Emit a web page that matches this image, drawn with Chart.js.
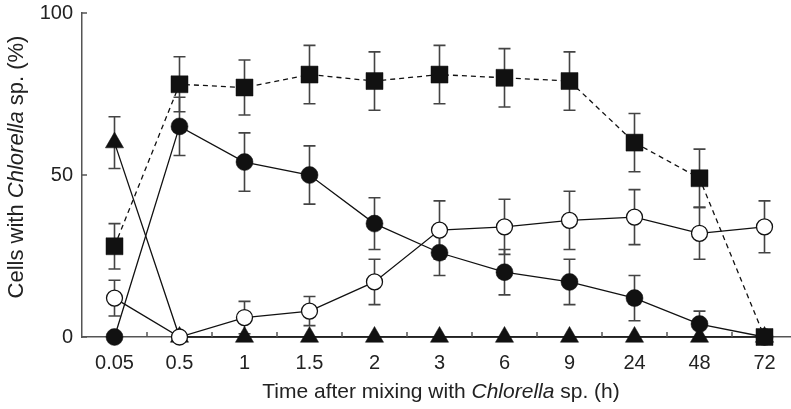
<!DOCTYPE html>
<html>
<head>
<meta charset="utf-8">
<script src="https://cdn.jsdelivr.net/npm/chart.js@4.4.1/dist/chart.umd.min.js"></script>
<style>
  html, body { margin: 0; padding: 0; background: #fff; overflow: hidden; }
  #wrap { width: 791px; height: 409px; overflow: hidden; }
  canvas { display: block; }
</style>
</head>
<body>
<div id="wrap"><canvas id="cellsChart" width="797" height="409"></canvas></div>
<script>
// data
const timeLabels = ['0.05', '0.5', '1', '1.5', '2', '3', '6', '9', '24', '48', '72'];
const yTicks = [0, 50, 100];

const squareVals = [28, 78, 77, 81, 79, 81, 80, 79, 60, 49, 0];
const squareErr  = [7, 8.5, 8.5, 9, 9, 9, 9, 9, 9, 9, 0];

const filledVals = [0, 65, 54, 50, 35, 26, 20, 17, 12, 4, 0];
const filledErr  = [0, 9, 9, 9, 8, 7, 7, 7, 7, 4, 0];

const openVals = [12, 0, 6, 8, 17, 33, 34, 36, 37, 32, 34];
const openErr  = [5.5, 0, 5, 4.5, 7, 9, 8.5, 9, 8.5, 8, 8];

const triVals = [60, 0, 0, 0, 0, 0, 0, 0, 0, 0, 0];
const triErr  = [8, 0, 0, 0, 0, 0, 0, 0, 0, 0, 0];

const FONT = "'Liberation Sans', Arial, sans-serif";
const INK = '#111';

// error bars, drawn under the markers
const errorBars = {
    id: 'errorBars',
    beforeDatasetsDraw(chart) {
        const ctx = chart.ctx;
        const yScale = chart.scales.y;
        ctx.save();
        ctx.strokeStyle = '#444';
        ctx.lineWidth = 1.6;
        chart.data.datasets.forEach((ds, i) => {
            if (!ds.errors) return;
            chart.getDatasetMeta(i).data.forEach((pt, j) => {
                const e = ds.errors[j];
                if (!e) return;
                const top = yScale.getPixelForValue(ds.data[j] + e);
                const bot = yScale.getPixelForValue(ds.data[j] - e);
                ctx.beginPath();
                ctx.moveTo(pt.x, top); ctx.lineTo(pt.x, bot);
                ctx.moveTo(pt.x - 6, top); ctx.lineTo(pt.x + 6, top);
                ctx.moveTo(pt.x - 6, bot); ctx.lineTo(pt.x + 6, bot);
                ctx.stroke();
            });
        });
        ctx.restore();
    }
};

// inward ticks and the two axis titles (with italic genus name)
const axisExtras = {
    id: 'axisExtras',
    afterDraw(chart) {
        const ctx = chart.ctx;
        const area = chart.chartArea;
        const xs = chart.scales.x, ys = chart.scales.y;
        ctx.save();
        ctx.strokeStyle = '#555';
        ctx.lineWidth = 1.5;
        ctx.beginPath();
        yTicks.forEach(v => {
            const py = ys.getPixelForValue(v);
            ctx.moveTo(area.left, py); ctx.lineTo(area.left + 5, py);
        });
        for (let i = 0; i < timeLabels.length - 1; i++) {
            const px = (xs.getPixelForValue(i) + xs.getPixelForValue(i + 1)) / 2;
            ctx.moveTo(px, area.bottom); ctx.lineTo(px, area.bottom - 5);
        }
        ctx.stroke();

        const parts = (pre, post) => [[pre, 'normal'], ['Chlorella', 'italic'], [post, 'normal']];
        const drawParts = (list, cx, cy, size) => {
            let total = 0;
            list.forEach(p => { ctx.font = p[1] + ' ' + size + 'px ' + FONT; total += ctx.measureText(p[0]).width; });
            let x = cx - total / 2;
            list.forEach(p => {
                ctx.font = p[1] + ' ' + size + 'px ' + FONT;
                ctx.fillText(p[0], x, cy);
                x += ctx.measureText(p[0]).width;
            });
        };
        ctx.fillStyle = '#222';
        ctx.textBaseline = 'middle';
        ctx.textAlign = 'left';
        drawParts(parts('Time after mixing with ', ' sp. (h)'), 441, 392, 21);

        ctx.translate(17, 167);
        ctx.rotate(-Math.PI / 2);
        drawParts(parts('Cells with ', ' sp. (%)'), 0, 0, 22);
        ctx.restore();
    }
};

const ctx = document.getElementById('cellsChart').getContext('2d');
const cellsChart = new Chart(ctx, {
    type: 'line',
    data: {
        labels: timeLabels,
        datasets: [{
            label: 'squares',
            data: squareVals,
            errors: squareErr,
            borderColor: INK,
            borderWidth: 1.3,
            borderDash: [5, 4],
            pointStyle: 'rect',
            pointRadius: 12,
            pointBackgroundColor: INK,
            pointBorderColor: INK,
            pointBorderWidth: 0.5
        }, {
            label: 'filled circles',
            data: filledVals,
            errors: filledErr,
            borderColor: INK,
            borderWidth: 1.3,
            pointStyle: 'circle',
            pointRadius: 8.5,
            pointBackgroundColor: INK,
            pointBorderColor: INK,
            pointBorderWidth: 0.5
        }, {
            label: 'open circles',
            data: openVals,
            errors: openErr,
            borderColor: INK,
            borderWidth: 1.3,
            pointStyle: 'circle',
            pointRadius: 8,
            pointBackgroundColor: '#fff',
            pointBorderColor: INK,
            pointBorderWidth: 1.3
        }, {
            label: 'triangles',
            data: triVals,
            errors: triErr,
            borderColor: INK,
            borderWidth: 1.3,
            pointStyle: 'triangle',
            pointRadius: 10.5,
            pointBackgroundColor: INK,
            pointBorderColor: INK,
            pointBorderWidth: 0.5
        }]
    },
    options: {
        responsive: false,
        animation: false,
        clip: false,
        layout: { autoPadding: false, padding: { top: 13, right: 0, left: 0, bottom: 0 } },
        elements: { line: { tension: 0 } },
        plugins: {
            legend: { display: false },
            tooltip: { enabled: false }
        },
        scales: {
            x: {
                type: 'category',
                offset: true,
                grid: { display: false, drawTicks: false },
                border: { display: true, color: '#555', width: 1.5 },
                ticks: { color: '#222', font: { family: FONT, size: 20 }, padding: 14, maxRotation: 0, autoSkip: false },
                afterFit: s => { s.height = 72; s.paddingLeft = 0; s.paddingRight = 0; }
            },
            y: {
                min: 0,
                max: 100,
                grid: { display: false, drawTicks: false },
                border: { display: true, color: '#555', width: 1.5 },
                ticks: { stepSize: 50, color: '#222', font: { family: FONT, size: 20 }, padding: 9 },
                afterFit: s => { s.width = 82; s.paddingTop = 0; s.paddingBottom = 0; }
            }
        }
    },
    plugins: [errorBars, axisExtras]
});
</script>
</body>
</html>
